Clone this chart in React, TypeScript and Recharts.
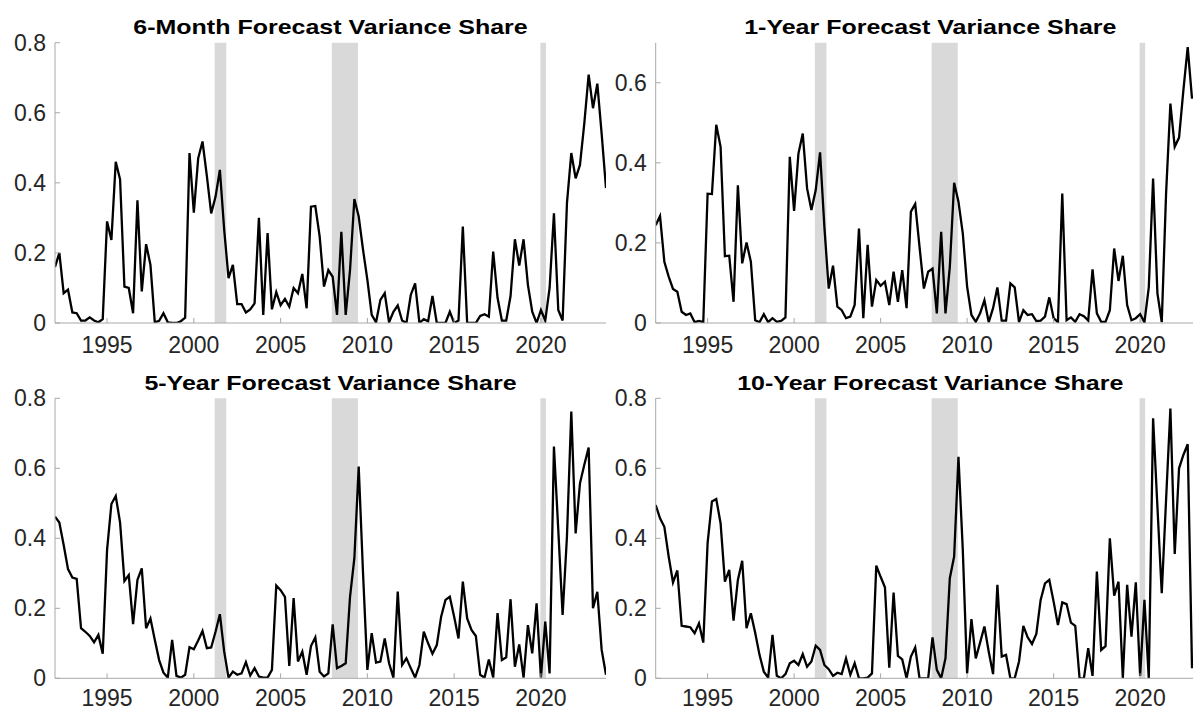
import React from 'react';
import { LineChart, Line, XAxis, YAxis, ReferenceArea } from 'recharts';

// Quarterly dates (1992Q1 ... 2023Q4)
const quarters: number[] = Array.from({ length: 128 }, (_, i) => 1992 + i * 0.25);

const sixMonth = [
  0.16, 0.2, 0.085, 0.095, 0.03, 0.028, 0.007, 0.007, 0.016, 0.007, 0.002, 0.011,
  0.29, 0.237, 0.46, 0.41, 0.104, 0.1, 0.028, 0.35, 0.09, 0.225, 0.166, 0.002,
  0.006, 0.028, 0.002, 0.0, 0.0, 0.005, 0.015, 0.485, 0.315, 0.47, 0.518, 0.42,
  0.313, 0.36, 0.437, 0.266, 0.128, 0.166, 0.054, 0.054, 0.03, 0.039, 0.056, 0.3,
  0.023, 0.257, 0.039, 0.088, 0.051, 0.069, 0.047, 0.1, 0.085, 0.14, 0.042, 0.332,
  0.334, 0.247, 0.104, 0.151, 0.132, 0.023, 0.26, 0.023, 0.151, 0.354, 0.304, 0.209,
  0.123, 0.023, 0.002, 0.066, 0.085, 0.002, 0.032, 0.05, 0.007, 0.0, 0.08, 0.113,
  0.0, 0.011, 0.005, 0.077, 0.0, 0.0, 0.0, 0.032, 0.0, 0.007, 0.275, 0.0,
  0.0, 0.0, 0.02, 0.025, 0.018, 0.204, 0.072, 0.007, 0.007, 0.077, 0.239, 0.164,
  0.239, 0.109, 0.032, 0.0, 0.037, 0.007, 0.1, 0.313, 0.037, 0.007, 0.342, 0.485,
  0.413, 0.451, 0.57, 0.709, 0.613, 0.683, 0.54, 0.385,
];

const oneYear = [
  0.244, 0.267, 0.153, 0.116, 0.085, 0.078, 0.028, 0.02, 0.024, 0.002, 0.005, 0.002,
  0.323, 0.322, 0.495, 0.44, 0.167, 0.168, 0.053, 0.344, 0.149, 0.201, 0.153, 0.007,
  0.002, 0.022, 0.002, 0.012, 0.003, 0.005, 0.014, 0.415, 0.28, 0.423, 0.473, 0.336,
  0.282, 0.332, 0.426, 0.24, 0.086, 0.143, 0.041, 0.032, 0.012, 0.016, 0.045, 0.236,
  0.012, 0.195, 0.041, 0.107, 0.093, 0.103, 0.045, 0.128, 0.053, 0.132, 0.037, 0.278,
  0.297, 0.19, 0.086, 0.128, 0.136, 0.024, 0.228, 0.024, 0.14, 0.35, 0.303, 0.224,
  0.091, 0.02, 0.003, 0.024, 0.057, 0.002, 0.037, 0.089, 0.006, 0.006, 0.099, 0.089,
  0.002, 0.032, 0.02, 0.022, 0.005, 0.006, 0.016, 0.064, 0.012, 0.002, 0.323, 0.007,
  0.014, 0.003, 0.022, 0.017, 0.006, 0.134, 0.024, 0.003, 0.003, 0.032, 0.186, 0.105,
  0.168, 0.045, 0.007, 0.012, 0.022, 0.002, 0.089, 0.361, 0.074, 0.002, 0.323, 0.548,
  0.44, 0.463, 0.581, 0.689, 0.56,
];

const fiveYear = [
  0.462, 0.445, 0.381, 0.312, 0.288, 0.284, 0.143, 0.133, 0.121, 0.103, 0.124, 0.07,
  0.367, 0.498, 0.521, 0.445, 0.278, 0.295, 0.155, 0.281, 0.314, 0.143, 0.171, 0.11,
  0.052, 0.016, 0.002, 0.11, 0.007, 0.002, 0.01, 0.089, 0.083, 0.108, 0.135, 0.086,
  0.088, 0.133, 0.183, 0.076, 0.002, 0.019, 0.01, 0.014, 0.046, 0.008, 0.029, 0.005,
  0.002, 0.002, 0.024, 0.265, 0.252, 0.233, 0.035, 0.229, 0.048, 0.076, 0.01, 0.092,
  0.117, 0.019, 0.005, 0.014, 0.154, 0.029, 0.035, 0.043, 0.233, 0.343, 0.605, 0.3,
  0.024, 0.129, 0.045, 0.048, 0.114, 0.043, 0.002, 0.248, 0.038, 0.057, 0.029, 0.002,
  0.038, 0.133, 0.1, 0.07, 0.095, 0.176, 0.224, 0.233, 0.176, 0.114, 0.276, 0.171,
  0.138, 0.121, 0.01, 0.002, 0.054, 0.002, 0.186, 0.052, 0.06, 0.226, 0.033, 0.097,
  0.002, 0.152, 0.071, 0.214, 0.002, 0.162, 0.014, 0.662, 0.424, 0.181, 0.405, 0.762,
  0.414, 0.557, 0.61, 0.659, 0.2, 0.247, 0.081, 0.01,
];

const tenYear = [
  0.495, 0.457, 0.433, 0.348, 0.274, 0.308, 0.15, 0.148, 0.146, 0.129, 0.157, 0.102,
  0.386, 0.505, 0.512, 0.443, 0.276, 0.31, 0.165, 0.281, 0.336, 0.143, 0.186, 0.13,
  0.067, 0.019, 0.002, 0.124, 0.007, 0.0, 0.012, 0.043, 0.05, 0.038, 0.069, 0.033,
  0.048, 0.093, 0.081, 0.038, 0.026, 0.007, 0.016, 0.012, 0.057, 0.01, 0.043, 0.0,
  0.0, 0.002, 0.014, 0.322, 0.29, 0.26, 0.03, 0.245, 0.064, 0.054, 0.0, 0.062,
  0.088, 0.0, 0.0, 0.0, 0.117, 0.024, 0.0, 0.057, 0.286, 0.348, 0.633, 0.367,
  0.014, 0.169, 0.057, 0.102, 0.148, 0.076, 0.012, 0.267, 0.062, 0.067, 0.0, 0.0,
  0.048, 0.15, 0.117, 0.098, 0.127, 0.224, 0.271, 0.281, 0.219, 0.152, 0.217, 0.212,
  0.159, 0.15, 0.0, 0.0, 0.086, 0.007, 0.305, 0.081, 0.092, 0.4, 0.236, 0.276,
  0.0, 0.267, 0.119, 0.274, 0.007, 0.224, 0.0, 0.743, 0.49, 0.243, 0.51, 0.771,
  0.355, 0.6, 0.638, 0.669, 0.029,
];

const yearTicks = [1995, 2000, 2005, 2010, 2015, 2020];
const shareTicks08 = [0, 0.2, 0.4, 0.6, 0.8];
const shareTicks07 = [0, 0.2, 0.4, 0.6];
const recessionStarts = [2001.2, 2007.95, 2019.97];
const recessionEnds = [2001.87, 2009.46, 2020.29];
const titles = [
  '6-Month Forecast Variance Share',
  '1-Year Forecast Variance Share',
  '5-Year Forecast Variance Share',
  '10-Year Forecast Variance Share',
];

const AXIS = '#a8a8a8';
const FONT = '"Liberation Sans", Arial, Helvetica, sans-serif';
const tickStyle = { fill: '#262626', fontSize: 23, fontFamily: FONT };

type PanelProps = {
  values: number[];
  yMax: number;
  yTicks: number[];
  left: number;
  top: number;
  width: number;
  height: number;
  marginTop: number;
  marginRight: number;
  yAxisWidth: number;
  xAxisHeight: number;
  xTickMargin: number;
};

function Panel(p: PanelProps) {
  const data = p.values.map((v, i) => ({ t: quarters[i], v }));
  const domainX: [number, number] = [1992, 2023.75];
  return (
    <div style={{ position: 'absolute', left: p.left, top: p.top }}>
      <LineChart
        width={p.width}
        height={p.height}
        data={data}
        margin={{ top: p.marginTop, right: p.marginRight, bottom: 0, left: 0 }}
      >
        <XAxis
          xAxisId="b"
          dataKey="t"
          type="number"
          domain={domainX}
          allowDataOverflow
          ticks={yearTicks}
          interval={0}
          height={p.xAxisHeight}
          tickSize={-5}
          tickMargin={p.xTickMargin}
          axisLine={{ stroke: AXIS }}
          tickLine={{ stroke: AXIS }}
          tick={tickStyle}
        />
        <XAxis
          xAxisId="t"
          orientation="top"
          dataKey="t"
          type="number"
          domain={domainX}
          allowDataOverflow
          ticks={yearTicks}
          interval={0}
          height={0}
          tickSize={-5}
          tick={false}
          axisLine={{ stroke: AXIS }}
          tickLine={{ stroke: AXIS }}
        />
        <YAxis
          yAxisId="l"
          type="number"
          domain={[0, p.yMax]}
          allowDataOverflow
          ticks={p.yTicks}
          interval={0}
          width={p.yAxisWidth}
          tickSize={-5}
          tickMargin={14}
          axisLine={{ stroke: AXIS }}
          tickLine={{ stroke: AXIS }}
          tick={tickStyle}
        />
        <YAxis
          yAxisId="r"
          orientation="right"
          type="number"
          domain={[0, p.yMax]}
          allowDataOverflow
          ticks={p.yTicks}
          interval={0}
          width={0}
          tickSize={-5}
          tick={false}
          axisLine={{ stroke: AXIS }}
          tickLine={{ stroke: AXIS }}
        />
        {recessionStarts.map((s, k) => (
          <ReferenceArea
            key={k}
            xAxisId="b"
            yAxisId="l"
            x1={s}
            x2={recessionEnds[k]}
            fill="#d9d9d9"
            fillOpacity={1}
            stroke="none"
          />
        ))}
        <Line
          xAxisId="b"
          yAxisId="l"
          type="linear"
          dataKey="v"
          stroke="#000"
          strokeWidth={2.3}
          dot={false}
          activeDot={false}
          isAnimationActive={false}
        />
      </LineChart>
    </div>
  );
}

const titlePos = [
  { x: 330.5, y: 34 },
  { x: 930.3, y: 34 },
  { x: 330.5, y: 389.5 },
  { x: 930.3, y: 389.5 },
];

export default function App() {
  return (
    <div
      style={{
        position: 'absolute',
        left: 0,
        top: 0,
        width: 1193,
        height: 711,
        overflow: 'hidden',
        background: '#fff',
      }}
    >
      <Panel values={sixMonth} yMax={0.8} yTicks={shareTicks08} left={0} top={0} width={620} height={360}
        marginTop={42.7} marginRight={14} yAxisWidth={55} xAxisHeight={37} xTickMargin={19} />
      <Panel values={oneYear} yMax={0.7} yTicks={shareTicks07} left={600} top={0} width={620} height={360}
        marginTop={42.7} marginRight={15} yAxisWidth={55.7} xAxisHeight={37} xTickMargin={19} />
      <Panel values={fiveYear} yMax={0.8} yTicks={shareTicks08} left={0} top={356} width={620} height={355}
        marginTop={42.3} marginRight={14} yAxisWidth={55} xAxisHeight={32.7} xTickMargin={16} />
      <Panel values={tenYear} yMax={0.8} yTicks={shareTicks08} left={600} top={356} width={620} height={355}
        marginTop={42.3} marginRight={15} yAxisWidth={55.7} xAxisHeight={32.7} xTickMargin={16} />
      <svg
        width={1193}
        height={711}
        style={{ position: 'absolute', left: 0, top: 0, pointerEvents: 'none' }}
      >
        {titles.map((t, k) => (
          <text
            key={k}
            transform={`translate(${titlePos[k].x},${titlePos[k].y}) scale(1.19,1)`}
            textAnchor="middle"
            fontFamily={FONT}
            fontWeight="bold"
            fontSize={21}
            fill="#000"
          >
            {t}
          </text>
        ))}
      </svg>
    </div>
  );
}
